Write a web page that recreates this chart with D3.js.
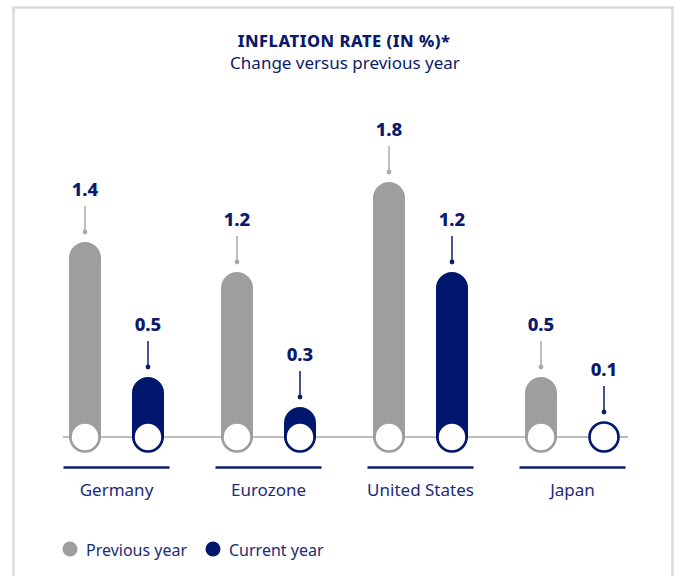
<!DOCTYPE html>
<html>
<head>
<meta charset="utf-8">
<script src="https://cdn.jsdelivr.net/npm/d3@7"></script>
<style>
  body { margin: 0; background: #fff; }
  svg text { font-family: "Noto Sans", Lato, sans-serif; }
</style>
</head>
<body>
<svg id="chart" width="680" height="576"></svg>
<script>
// chart data
var categories = ["Germany", "Eurozone", "United States", "Japan"];
var seriesNames = ["Previous year", "Current year"];
var previousYear = [1.4, 1.2, 1.8, 0.5];
var currentYear = [0.5, 0.3, 1.2, 0.1];
var colors = ["#9d9e9d", "#00176e"];
var leaderColors = ["#a9aaa9", "#0c1d6e"];
var navy = "#0c1a6b";

var svg = d3.select("#chart");

// frame
svg.append("rect")
    .attr("x", 13.5).attr("y", 7.5)
    .attr("width", 659).attr("height", 600)
    .attr("fill", "none")
    .attr("stroke", "#dadada")
    .attr("stroke-width", 2.5);

// title
svg.append("text")
    .attr("x", 344).attr("y", 47)
    .attr("text-anchor", "middle")
    .attr("font-size", 16.5).attr("font-weight", 800)
    .attr("letter-spacing", 0.5)
    .attr("fill", navy)
    .text("INFLATION RATE (IN %)*");

svg.append("text")
    .attr("x", 345).attr("y", 68.5)
    .attr("text-anchor", "middle")
    .attr("font-size", 17)
    .attr("fill", navy)
    .text("Change versus previous year");

// scales
var x = d3.scaleBand()
    .domain(categories)
    .range([40.5, 648.5]);

var xs = d3.scaleBand()
    .domain(seriesNames)
    .range([x.bandwidth() / 2 - 63, x.bandwidth() / 2 + 63]);

var y = d3.scaleLinear()
    .domain([0, 2])
    .range([452, 152]);

var barW = 32;
var r = 14.5;
var circleY = y(0) - 15;

var data = [];
categories.forEach(function(c, i) {
  data.push({ cat: c, s: 0, value: previousYear[i] });
  data.push({ cat: c, s: 1, value: currentYear[i] });
});

function cx(d) { return x(d.cat) + xs(seriesNames[d.s]) + xs.bandwidth() / 2; }
// visual top of a mark: the bar top or the circle top, whichever is higher
function markTop(d) { return Math.min(y(d.value), circleY - 15); }

// baseline
svg.append("line")
    .attr("x1", x(categories[0]) + x.bandwidth() / 2 - 53.5)
    .attr("x2", x(categories[categories.length - 1]) + x.bandwidth() / 2 + 55.5)
    .attr("y1", circleY).attr("y2", circleY)
    .attr("stroke", "#bdbdbd").attr("stroke-width", 2);

// bars
svg.selectAll("rect.bar")
    .data(data.filter(function(d) { return y(0) - y(d.value) >= barW; }))
  .enter().append("rect")
    .attr("class", "bar")
    .attr("x", function(d) { return cx(d) - barW / 2; })
    .attr("y", function(d) { return y(d.value); })
    .attr("width", barW)
    .attr("height", function(d) { return y(0) - y(d.value); })
    .attr("rx", barW / 2)
    .attr("fill", function(d) { return colors[d.s]; });

// base circles
svg.selectAll("circle.base")
    .data(data)
  .enter().append("circle")
    .attr("class", "base")
    .attr("cx", cx)
    .attr("cy", circleY)
    .attr("r", r)
    .attr("fill", "#fff")
    .attr("stroke", function(d) { return colors[d.s]; })
    .attr("stroke-width", 2.6);

// leaders
var lead = svg.selectAll("g.lead")
    .data(data)
  .enter().append("g")
    .attr("class", "lead");

lead.append("line")
    .attr("x1", cx).attr("x2", cx)
    .attr("y1", function(d) { return markTop(d) - 10; })
    .attr("y2", function(d) { return markTop(d) - 36; })
    .attr("stroke", function(d) { return leaderColors[d.s]; })
    .attr("stroke-width", 1.5);

lead.append("circle")
    .attr("cx", cx)
    .attr("cy", function(d) { return markTop(d) - 10; })
    .attr("r", 2.4)
    .attr("fill", function(d) { return leaderColors[d.s]; });

lead.append("text")
    .attr("x", cx)
    .attr("y", function(d) { return markTop(d) - 46; })
    .attr("text-anchor", "middle")
    .attr("font-size", 18.5).attr("font-weight", 800)
    .attr("fill", navy)
    .text(function(d) { return d3.format(".1f")(d.value); });

// category underlines and labels
var cat = svg.selectAll("g.cat")
    .data(categories)
  .enter().append("g")
    .attr("class", "cat")
    .attr("transform", function(d) { return "translate(" + (x(d) + x.bandwidth() / 2) + ",0)"; });

cat.append("line")
    .attr("x1", -53).attr("x2", 53)
    .attr("y1", 467.5).attr("y2", 467.5)
    .attr("stroke", "#0c1d6e").attr("stroke-width", 2.5);

cat.append("text")
    .attr("y", 496)
    .attr("text-anchor", "middle")
    .attr("font-size", 17)
    .attr("fill", "#1c2a78")
    .text(function(d) { return d; });

// legend
var legX = [70, 213];
var leg = svg.selectAll("g.leg")
    .data(seriesNames)
  .enter().append("g")
    .attr("class", "leg")
    .attr("transform", function(d, i) { return "translate(" + legX[i] + ",549)"; });

leg.append("circle")
    .attr("r", 7.5)
    .attr("fill", function(d, i) { return colors[i]; });

leg.append("text")
    .attr("x", 16).attr("y", 6.5)
    .attr("font-size", 16)
    .attr("fill", "#1c2a78")
    .text(function(d) { return d; });
</script>
</body>
</html>
